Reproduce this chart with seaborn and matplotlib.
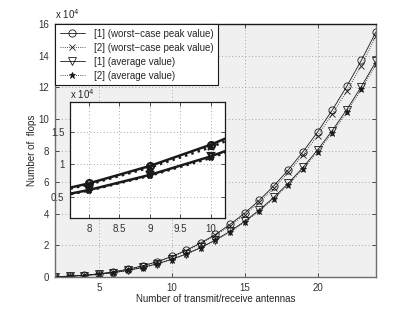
import numpy as np
import pandas as pd
import matplotlib
matplotlib.use("Agg")
import matplotlib.pyplot as plt
import seaborn as sns
from matplotlib.ticker import FuncFormatter

# antennas
n = list(range(2, 25))

# flops
worst_1 = [202, 544, 1126, 2008, 3249, 4910, 7049, 9726, 13000, 16932, 21582, 27007,
           33269, 40427, 48540, 57669, 67872, 79209, 91740, 105525, 120623, 137093, 154995]
worst_2 = [197, 531, 1099, 1960, 3170, 4790, 6875, 9485, 12600, 16480, 21030, 26330,
           32440, 39420, 47330, 56230, 66180, 77230, 89450, 102890, 117610, 133670, 152600]
avg_1 = [163, 447, 937, 1687, 2750, 4179, 6029, 8351, 11200, 14630, 18692, 23442,
         28931, 35215, 42346, 50377, 59362, 69355, 80408, 92576, 105911, 120467, 136297]
avg_2 = [161, 440, 923, 1662, 2709, 4116, 5939, 8226, 10950, 14411, 18412, 23090,
         28497, 34687, 41711, 49621, 58472, 68315, 79202, 91187, 104322, 118660, 134450]

labels = ["[1] (worst\u2212case peak value)", "[2] (worst\u2212case peak value)",
          "[1] (average value)", "[2] (average value)"]

sns.set_theme(style="ticks")
plt.rcParams["font.family"] = ["Liberation Sans", "DejaVu Sans"]
plt.rcParams["font.size"] = 7
plt.rcParams["axes.linewidth"] = 0.8

fig = plt.figure(figsize=(4.15, 3.13), dpi=100)
ax = fig.add_axes([0.1325, 0.115, 0.7735, 0.8083])
ax.set_facecolor("#f0f0f0")

styles = [
    dict(linestyle="-", marker="o", mfc="none", ms=5.2),
    dict(linestyle=":", marker="x", mfc="none", ms=4),
    dict(linestyle="-", marker="v", mfc="none", ms=5.2),
    dict(linestyle=":", marker="*", mfc="k", ms=4.5),
]
series = [worst_1, worst_2, avg_1, avg_2]

for vals, lab, st in zip(series, labels, styles):
    sns.lineplot(x=n, y=vals, ax=ax, color="k", lw=0.6, mec="k", mew=0.6,
                 label=lab, **st)

ax.set_xlim(2, 24)
ax.set_ylim(0, 160000)
ax.set_xticks([5, 10, 15, 20])
ax.set_yticks(np.arange(0, 160001, 20000))
ax.yaxis.set_major_formatter(FuncFormatter(lambda v, p: f"{v / 1e4:g}"))
ax.grid(True, color="#8c8c8c", linestyle=(0, (1, 3)), lw=0.6)
ax.tick_params(direction="in", top=True, right=True, length=3, width=0.6,
               labelsize=7, pad=4, colors="#333333")
for s in ax.spines.values():
    s.set_color("#6e6e6e")
    s.set_linewidth(1.0)
ax.spines["top"].set_color("k")
ax.set_xlabel("Number of transmit/receive antennas", fontsize=7, labelpad=1)
ax.set_ylabel("Number of  flops", fontsize=7, labelpad=1)
ax.text(0.0, 1.012, "x 10$^{4}$", transform=ax.transAxes, fontsize=7, ha="left", va="bottom")

leg = ax.legend(loc="upper left", fontsize=7, frameon=True, fancybox=False,
                edgecolor="k", framealpha=1, borderaxespad=0, handlelength=2.6,
                borderpad=0.5, labelspacing=0.4, handletextpad=0.9)
leg.get_frame().set_linewidth(0.8)

# inset
axi = fig.add_axes([0.1687, 0.3035, 0.3735, 0.3706])
axi.set_facecolor("white")
for vals, st in zip(series, styles):
    st = dict(st, ms=st["ms"] * 0.95)
    sns.lineplot(x=n, y=vals, ax=axi, color="k", lw=1.8, mec="k", mew=1.6,
                 legend=False, **st)
axi.set_xlim(7.69, 10.235)
axi.set_ylim(1720, 19570)
axi.set_xticks([8, 8.5, 9, 9.5, 10])
axi.set_yticks([5000, 10000, 15000])
axi.xaxis.set_major_formatter(FuncFormatter(lambda v, p: f"{v:g}"))
axi.yaxis.set_major_formatter(FuncFormatter(lambda v, p: f"{v / 1e4:g}"))
axi.grid(True, color="#8c8c8c", linestyle=(0, (1, 3)), lw=0.6)
axi.tick_params(direction="in", top=True, right=True, length=3, width=0.6,
                labelsize=7, pad=4, colors="#333333")
for s in axi.spines.values():
    s.set_color("k")
    s.set_linewidth(0.9)
axi.text(0.0, 1.012, "x 10$^{4}$", transform=axi.transAxes, fontsize=7, ha="left", va="bottom")

fig.savefig("out.png", dpi=100)
